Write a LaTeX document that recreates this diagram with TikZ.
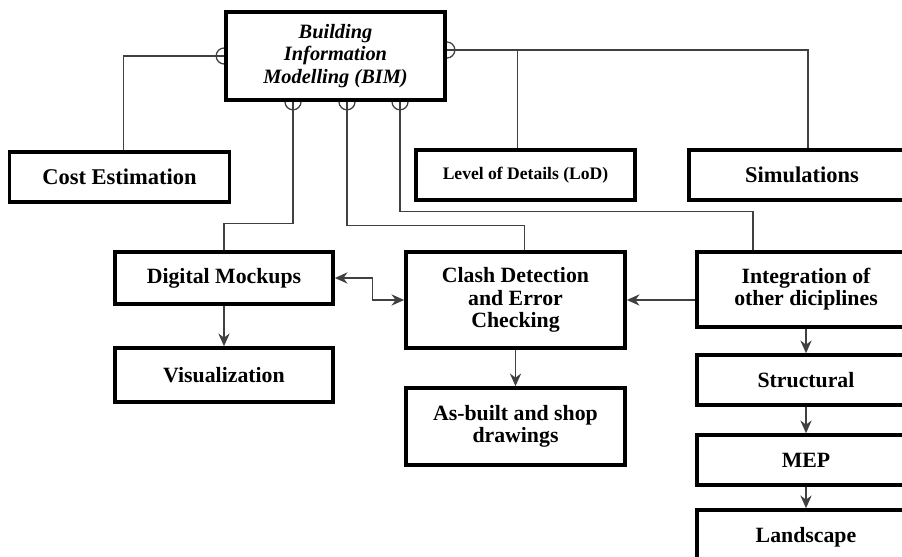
\documentclass[tikz,border=0pt]{standalone}
\usepackage{fontspec}
\setmainfont{Liberation Serif}
\usetikzlibrary{arrows.meta}
\tikzset{
  box/.style = {draw=black, line width=2.6pt, align=center, inner sep=2pt,
    font=\bfseries\fontsize{15.5}{15.8}\selectfont},
  bigbox/.style = {box, font=\bfseries\fontsize{16}{19}\selectfont},
  link/.style = {draw=black!75, line width=0.9pt},
  arr/.style = {link, -{Stealth[length=9pt,width=8pt]}},
  darr/.style = {link, {Stealth[length=9pt,width=8pt]}-{Stealth[length=9pt,width=8pt]}},
}

\begin{document}
\begin{tikzpicture}[x=0.025cm, y=0.025cm]
  \useasboundingbox (0,0) rectangle (902,557);
  \clip (0,0) rectangle (902,557);

  % top
  \node [box, minimum width=5.475cm, minimum height=2.2cm,
    font=\bfseries\itshape\fontsize{14.5}{16}\selectfont] (bim) at (335.5,501)
    {Building\\Information\\Modelling (BIM)};
  \node [bigbox, minimum width=5.5cm, minimum height=1.25cm] (cost) at (119.5,380) {Cost Estimation};
  \node [bigbox, minimum width=5.475cm, minimum height=1.25cm,
    font=\bfseries\fontsize{12.5}{15}\selectfont] (lod) at (525.5,382) {Level of Details (LoD)};
  \node [bigbox, minimum width=5.65cm, minimum height=1.25cm] (sim) at (802,382) {Simulations};

  % middle
  \node [box, minimum width=5.45cm, minimum height=1.3cm] (dm) at (224,279) {Digital Mockups};
  \node [box, minimum width=5.45cm, minimum height=1.35cm] (vis) at (224,182) {Visualization};
  \node [box, minimum width=5.475cm, minimum height=2.4cm] (clash) at (515.5,257) {Clash Detection\\and Error\\Checking};
  \node [box, minimum width=5.475cm, minimum height=1.925cm] (asb) at (515.5,130.5) {As-built and shop\\drawings};

  % right column
  \node [box, minimum width=5.45cm, minimum height=1.875cm] (integ) at (806,267.5) {Integration of\\other diciplines};
  \node [box, minimum width=5.45cm, minimum height=1.25cm] (struct) at (806,177) {Structural};
  \node [box, minimum width=5.45cm, minimum height=1.25cm] (mep) at (806,97) {MEP};
  \node [box, minimum width=5.45cm, minimum height=1.35cm] (land) at (806,20) {Landscape};

  % plug points on the BIM box
  \coordinate (bimr) at ([yshift=0.15cm]bim.east);
  \coordinate (b1) at ([xshift=-1.0625cm]bim.south);
  \coordinate (b2) at ([xshift=0.2875cm]bim.south);
  \coordinate (b3) at ([xshift=1.6125cm]bim.south);

  \draw [link] ([yshift=0.2cm]bim.west) arc (90:270:0.2cm);
  \draw [link] ([yshift=-0.2cm]bimr) arc (-90:90:0.2cm);
  \foreach \p in {b1,b2,b3}
    \draw [link] ([xshift=-0.2cm]\p) arc (180:360:0.2cm);

  % links
  \draw [link] (bim.west) -| ([xshift=0.1cm]cost.north);
  \draw [link] (bimr) -| ([xshift=0.15cm]sim.north);
  \draw [link] ([xshift=-0.2cm]lod.north) -- ([xshift=-0.2cm]lod.north |- bimr);
  \draw [link] (b1) |- ([yshift=0.675cm]dm.north) -- (dm.north);
  \draw [link] (b2) |- ([xshift=0.225cm,yshift=0.625cm]clash.north) -- ([xshift=0.225cm]clash.north);
  \draw [link] (b3) |- ([xshift=-1.325cm,yshift=0.975cm]integ.north) -- ([xshift=-1.325cm]integ.north);

  % arrows
  \draw [darr] (dm.east) -- ++(38,0) |- (clash.west);
  \draw [arr] (integ.west |- clash.east) -- (clash.east);
  \draw [arr] (dm.south) -- (vis.north);
  \draw [arr] (clash.south) -- (asb.north);
  \draw [arr] (integ.south) -- (struct.north);
  \draw [arr] (struct.south) -- (mep.north);
  \draw [arr] (mep.south) -- (land.north);
\end{tikzpicture}
\end{document}
